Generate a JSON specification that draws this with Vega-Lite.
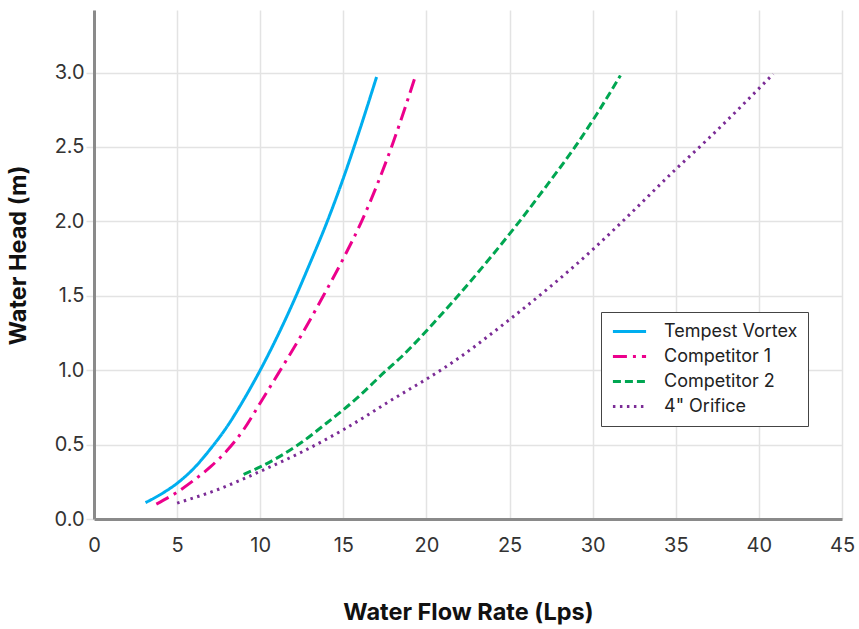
{
  "$schema": "https://vega.github.io/schema/vega-lite/v6.json",
  "width": 748,
  "height": 509,
  "autosize": {"type": "none"},
  "padding": {"left": 94, "top": 10, "right": 17, "bottom": 110},
  "background": "white",
  "config": {
    "font": "Inter",
    "view": {"stroke": null},
    "axis": {
      "gridColor": "#e3e3e3",
      "gridWidth": 1.5,
      "domainColor": "#8a8a8a",
      "domainWidth": 3,
      "labelColor": "#333333",
      "labelFontSize": 20,
      "labelFont": "Inter",
      "labelFontWeight": "normal",
      "titleFont": "Inter",
      "titleFontSize": 23.5,
      "titleFontWeight": "bold",
      "titleColor": "#111111"
    },
    "legend": {
      "strokeColor": "#444444",
      "fillColor": "white",
      "padding": 10,
      "symbolType": "stroke",
      "symbolSize": 1100,
      "symbolStrokeWidth": 3,
      "labelFontSize": 18,
      "labelFont": "Inter",
      "labelColor": "#222222",
      "labelOffset": 16,
      "clipHeight": 19,
      "rowPadding": 6
    }
  },
  "data": {
    "values": [
      {"series": "Tempest Vortex", "q": 3.1, "h": 0.11},
      {"series": "Tempest Vortex", "q": 4.0, "h": 0.165},
      {"series": "Tempest Vortex", "q": 5.0, "h": 0.24},
      {"series": "Tempest Vortex", "q": 6.0, "h": 0.34},
      {"series": "Tempest Vortex", "q": 7.0, "h": 0.47},
      {"series": "Tempest Vortex", "q": 8.0, "h": 0.62},
      {"series": "Tempest Vortex", "q": 9.0, "h": 0.8},
      {"series": "Tempest Vortex", "q": 10.0, "h": 1.0},
      {"series": "Tempest Vortex", "q": 11.0, "h": 1.22},
      {"series": "Tempest Vortex", "q": 12.0, "h": 1.46},
      {"series": "Tempest Vortex", "q": 13.0, "h": 1.72},
      {"series": "Tempest Vortex", "q": 14.0, "h": 1.99},
      {"series": "Tempest Vortex", "q": 15.0, "h": 2.29},
      {"series": "Tempest Vortex", "q": 16.0, "h": 2.62},
      {"series": "Tempest Vortex", "q": 17.0, "h": 2.97},
      {"series": "Competitor 1", "q": 3.75, "h": 0.1},
      {"series": "Competitor 1", "q": 5.0, "h": 0.18},
      {"series": "Competitor 1", "q": 6.0, "h": 0.26},
      {"series": "Competitor 1", "q": 7.0, "h": 0.35},
      {"series": "Competitor 1", "q": 8.0, "h": 0.46},
      {"series": "Competitor 1", "q": 9.0, "h": 0.6},
      {"series": "Competitor 1", "q": 10.0, "h": 0.78},
      {"series": "Competitor 1", "q": 11.1, "h": 0.98},
      {"series": "Competitor 1", "q": 12.5, "h": 1.24},
      {"series": "Competitor 1", "q": 13.8, "h": 1.5},
      {"series": "Competitor 1", "q": 15.0, "h": 1.75},
      {"series": "Competitor 1", "q": 16.1, "h": 2.0},
      {"series": "Competitor 1", "q": 17.9, "h": 2.5},
      {"series": "Competitor 1", "q": 19.35, "h": 2.98},
      {"series": "Competitor 2", "q": 9.0, "h": 0.3},
      {"series": "Competitor 2", "q": 10.0, "h": 0.35},
      {"series": "Competitor 2", "q": 12.3, "h": 0.5},
      {"series": "Competitor 2", "q": 14.0, "h": 0.645},
      {"series": "Competitor 2", "q": 15.8, "h": 0.81},
      {"series": "Competitor 2", "q": 17.6, "h": 1.0},
      {"series": "Competitor 2", "q": 18.4, "h": 1.08},
      {"series": "Competitor 2", "q": 20.7, "h": 1.35},
      {"series": "Competitor 2", "q": 21.9, "h": 1.5},
      {"series": "Competitor 2", "q": 23.8, "h": 1.75},
      {"series": "Competitor 2", "q": 25.6, "h": 2.0},
      {"series": "Competitor 2", "q": 27.3, "h": 2.25},
      {"series": "Competitor 2", "q": 29.0, "h": 2.51},
      {"series": "Competitor 2", "q": 30.3, "h": 2.73},
      {"series": "Competitor 2", "q": 31.67, "h": 2.98},
      {"series": "4\" Orifice", "q": 5.0, "h": 0.107},
      {"series": "4\" Orifice", "q": 7.5, "h": 0.2},
      {"series": "4\" Orifice", "q": 10.0, "h": 0.32},
      {"series": "4\" Orifice", "q": 12.5, "h": 0.45},
      {"series": "4\" Orifice", "q": 15.0, "h": 0.6},
      {"series": "4\" Orifice", "q": 18.2, "h": 0.82},
      {"series": "4\" Orifice", "q": 20.0, "h": 0.94},
      {"series": "4\" Orifice", "q": 21.0, "h": 1.01},
      {"series": "4\" Orifice", "q": 25.0, "h": 1.34},
      {"series": "4\" Orifice", "q": 30.0, "h": 1.81},
      {"series": "4\" Orifice", "q": 31.8, "h": 2.0},
      {"series": "4\" Orifice", "q": 35.0, "h": 2.35},
      {"series": "4\" Orifice", "q": 37.0, "h": 2.56},
      {"series": "4\" Orifice", "q": 40.86, "h": 2.99}
    ]
  },
  "mark": {"type": "line", "strokeWidth": 3, "interpolate": "monotone"},
  "encoding": {
    "x": {
      "field": "q",
      "type": "quantitative",
      "scale": {"domain": [0, 45], "nice": false, "zero": true},
      "axis": {
        "values": [0, 5, 10, 15, 20, 25, 30, 35, 40, 45],
        "title": "Water Flow Rate (Lps)",
        "ticks": false,
        "labelPadding": 16,
        "titlePadding": 45,
        "labelFlush": false
      }
    },
    "y": {
      "field": "h",
      "type": "quantitative",
      "scale": {"domain": [0, 3.42], "nice": false},
      "axis": {
        "values": [0, 0.5, 1, 1.5, 2, 2.5, 3],
        "format": ".1f",
        "title": "Water Head (m)",
        "ticks": true,
        "tickColor": "#e3e3e3",
        "tickWidth": 1.5,
        "tickSize": 8,
        "labelPadding": 2,
        "titlePadding": 23,
        "titleY": 245,
        "labelFlush": false
      }
    },
    "color": {
      "field": "series",
      "type": "nominal",
      "scale": {
        "domain": ["Tempest Vortex", "Competitor 1", "Competitor 2", "4\" Orifice"],
        "range": ["#00aeef", "#ec008c", "#00a651", "#7b2c96"]
      },
      "legend": {
        "title": null,
        "orient": "none",
        "legendX": 507,
        "legendY": 302
      }
    },
    "strokeDash": {
      "field": "series",
      "type": "nominal",
      "scale": {
        "domain": ["Tempest Vortex", "Competitor 1", "Competitor 2", "4\" Orifice"],
        "range": [[1, 0], [14, 6, 3, 6], [8, 4], [2.5, 4.5]]
      },
      "legend": {
        "title": null,
        "orient": "none",
        "legendX": 507,
        "legendY": 302
      }
    }
  }
}
